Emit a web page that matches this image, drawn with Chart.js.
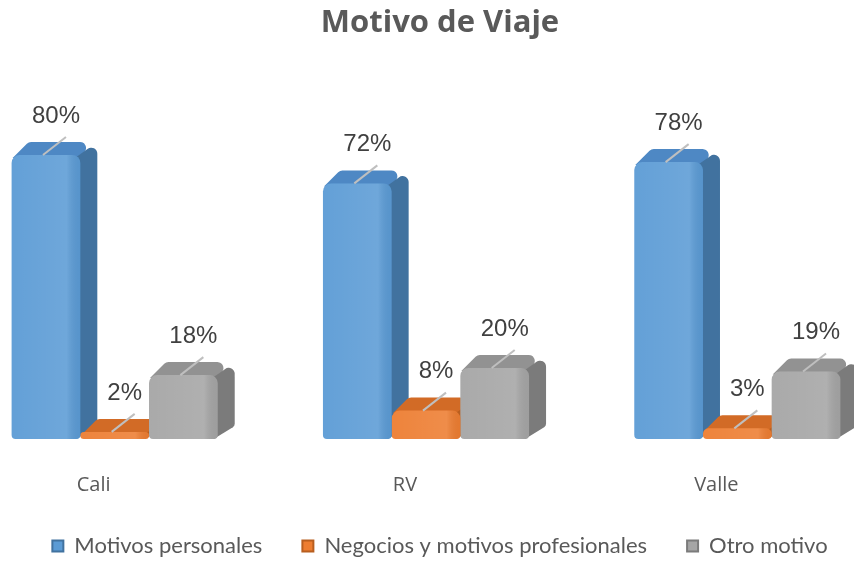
<!DOCTYPE html>
<html><head><meta charset="utf-8">
<script src="https://cdn.jsdelivr.net/npm/chart.js@4.4.1/dist/chart.umd.min.js"></script>
<style>html,body{margin:0;padding:0;background:#fff;overflow:hidden;width:854px;height:561px}#wrap{position:absolute;left:-41px;top:0;width:962px;height:561px}</style>
</head><body><div id="wrap"><canvas id="c"></canvas></div>
<script>
const categories = ['Cali', 'RV', 'Valle'];
const seriesNames = ['Motivos personales', 'Negocios y motivos profesionales', 'Otro motivo'];
const motivosPersonales = [80, 72, 78];
const negociosProfesionales = [2, 8, 3];
const otroMotivo = [18, 20, 19];

const frontColors = ['#5B9BD5', '#ED7D31', '#A5A5A5'];
const sideColors = ['#41729F', '#B85E1F', '#7B7B7B'];
const topColors = ['#4E88C4', '#D26B26', '#929292'];
const DX = 17, DY = 13;

function roundedPoly(ctx, pts, r) {
  const n = pts.length;
  ctx.beginPath();
  ctx.moveTo((pts[n-1][0] + pts[0][0]) / 2, (pts[n-1][1] + pts[0][1]) / 2);
  for (let i = 0; i < n; i++) {
    const p = pts[i], q = pts[(i + 1) % n];
    ctx.arcTo(p[0], p[1], q[0], q[1], r[i]);
  }
  ctx.closePath();
}

const depthPlugin = {
  id: 'depth3d',
  beforeDatasetsDraw(chart) {
    const ctx = chart.ctx;
    ctx.save();
    chart.data.datasets.forEach((ds, di) => {
      chart.getDatasetMeta(di).data.forEach(el => {
        const L = el.x - el.width / 2, R = el.x + el.width / 2;
        const T = el.y, B = el.base;
        const rr = Math.min(6, (B - T) / 2 + 3);
        ctx.fillStyle = topColors[di];
        roundedPoly(ctx, [[L + 1, T + 3], [L + DX, T - DY], [R + DX, T - DY], [R - 2, T + 2]], [0, 6, rr, 0]);
        ctx.fill();
        ctx.fillStyle = sideColors[di];
        roundedPoly(ctx, [[R - 4, T + 2], [R + DX, T - DY], [R + DX, B - DY], [R - 4, B]], [0, rr, 4, 0]);
        ctx.fill();
      });
    });
    ctx.restore();
  },
  afterDatasetsDraw(chart) {
    const ctx = chart.ctx;
    ctx.save();
    chart.data.datasets.forEach((ds, di) => {
      chart.getDatasetMeta(di).data.forEach((el, i) => {
        const L = el.x - el.width / 2, R = el.x + el.width / 2;
        const g = ctx.createLinearGradient(L, 0, R, 0);
        g.addColorStop(0, 'rgba(255,255,255,0.05)');
        g.addColorStop(0.8, 'rgba(255,255,255,0.12)');
        g.addColorStop(1, 'rgba(0,0,0,0.04)');
        ctx.fillStyle = g;
        const h = el.base - el.y;
        if (h > 4) {
          ctx.beginPath();
          ctx.roundRect(L, el.y, el.width, h, [Math.min(8, h / 2), Math.min(8, h / 2), Math.min(4, h / 2), Math.min(4, h / 2)]);
          ctx.fill();
        }
        ctx.strokeStyle = '#BFBFBF';
        ctx.lineWidth = 2;
        ctx.beginPath();
        ctx.moveTo(el.x - 3, el.y);
        ctx.lineTo(el.x + 20, el.y - 18);
        ctx.stroke();
        ctx.fillStyle = '#404040';
        ctx.font = '24px "Liberation Sans", Arial, sans-serif';
        ctx.textAlign = 'center';
        ctx.textBaseline = 'middle';
        ctx.fillText(ds.data[i] + '%', el.x + 10, el.y - 39);
      });
    });
    ctx.restore();
  }
};

new Chart(document.getElementById('c'), {
  type: 'bar',
  data: {
    labels: categories,
    datasets: [
      { label: seriesNames[0], data: motivosPersonales, backgroundColor: frontColors[0] },
      { label: seriesNames[1], data: negociosProfesionales, backgroundColor: frontColors[1] },
      { label: seriesNames[2], data: otroMotivo, backgroundColor: frontColors[2] }
    ]
  },
  options: {
    responsive: true,
    maintainAspectRatio: false,
    animation: false,
    devicePixelRatio: 1,
    layout: { padding: { top: 0, left: 0, right: 0, bottom: -6 } },
    datasets: {
      bar: {
        categoryPercentage: 0.662,
        barPercentage: 1.0,
        borderWidth: 0,
        borderSkipped: false,
        borderRadius: { topLeft: 8, topRight: 8, bottomLeft: 4, bottomRight: 4 }
      }
    },
    scales: {
      x: {
        grid: { display: false, drawTicks: false },
        border: { display: false },
        ticks: {
          color: '#595959',
          font: { family: '"Open Sans", sans-serif', size: 20 },
          padding: 34,
          labelOffset: -21
        },
        afterFit: s => { s.height = 56; }
      },
      y: {
        position: 'right',
        min: 0,
        max: 100,
        grid: { display: false, drawTicks: false },
        border: { display: false },
        ticks: { display: false },
        afterFit: s => { s.width = 28; }
      }
    },
    plugins: {
      title: {
        display: true,
        text: 'Motivo de Viaje',
        color: '#595959',
        font: { family: '"Open Sans", sans-serif', size: 31, weight: 'bold' },
        padding: { top: 5, bottom: 41.8 }
      },
      legend: {
        position: 'bottom',
        labels: {
          boxWidth: 11,
          boxHeight: 11,
          padding: 40,
          color: '#595959',
          font: { family: 'Lato, sans-serif', size: 22 },
          generateLabels: chart => chart.data.datasets.map((ds, i) => ({
            text: ds.label,
            fillStyle: frontColors[i],
            strokeStyle: sideColors[i],
            lineWidth: 2,
            hidden: false,
            datasetIndex: i,
            fontColor: '#595959'
          }))
        }
      },
      tooltip: { enabled: false }
    }
  },
  plugins: [depthPlugin]
});
</script>
</body></html>
